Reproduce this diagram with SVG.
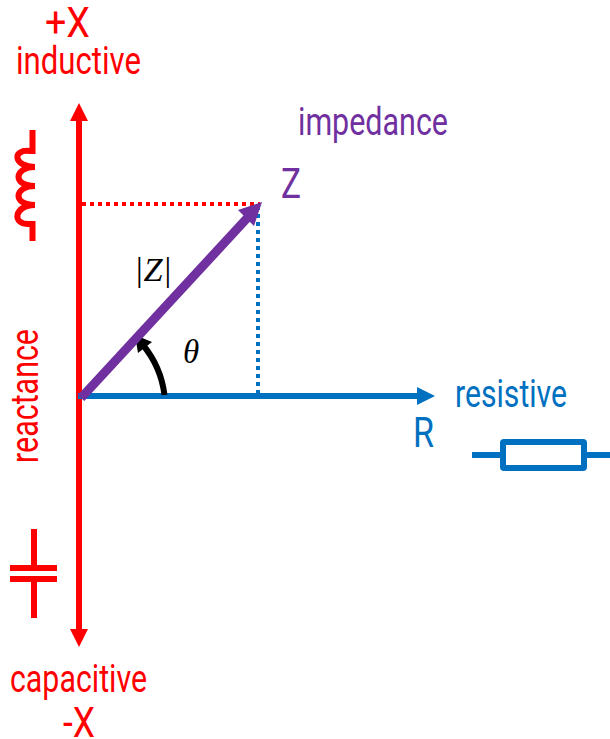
<svg xmlns="http://www.w3.org/2000/svg" width="610" height="739" viewBox="0 0 610 739">
<style>
text{font-family:Roboto,"Liberation Sans",sans-serif;font-size:38px}
.big{font-size:42px}
.r{fill:#ff0000}.b{fill:#0070c0}.p{fill:#7030a0}
.m{font-family:"Liberation Serif",serif;font-style:italic;font-size:33px;fill:#000}
.sr{stroke:#ff0000;fill:none;stroke-width:6}
.sb{stroke:#0070c0;fill:none;stroke-width:6}
</style>
<rect width="610" height="739" fill="#fff"/>
<g id="connectors">
<line x1="82" y1="204" x2="260" y2="204" stroke="#ff0000" stroke-width="4" stroke-dasharray="4 4"/>
<line x1="258" y1="206" x2="258" y2="393" stroke="#0070c0" stroke-width="4" stroke-dasharray="4 4"/>
<line x1="79" y1="118" x2="79" y2="632" stroke="#ff0000" stroke-width="6"/>
<polygon points="79,103 88,121 70,121" fill="#ff0000"/>
<polygon points="79,647 88,629 70,629" fill="#ff0000"/>
<line x1="78" y1="396" x2="420" y2="396" stroke="#0070c0" stroke-width="6"/>
<polygon points="435,396 417,387 417,405" fill="#0070c0"/>
<path d="M164.500 395 Q161 367 143 345" fill="none" stroke="#000" stroke-width="6"/>
<polygon points="135,335 152,342 138,353" fill="#000"/>
<line x1="81" y1="398" x2="250" y2="215" stroke="#7030a0" stroke-width="9"/>
<polygon points="262,202 254,226 238,210" fill="#7030a0"/>
</g>
<g id="inductor">
<path class="sr" d="M32.500 130V151H30C11 149 14 167 35 167C14 167 12 186 35 186C14 186 12 205 35 205C14 205 11 225 30 224H32.500V241"/>
</g>
<g id="capacitor">
<path class="sr" d="M34 529V565M10 568H57M10 579H57M34 582V618"/>
</g>
<g id="resistor">
<line class="sb" x1="472" y1="455" x2="502" y2="455"/>
<line class="sb" x1="585" y1="455" x2="610" y2="455"/>
<rect class="sb" x="503" y="442" width="81" height="26" rx="1"/>
</g>
<g id="labels">
<text class="r big" x="45" y="37" textLength="45" lengthAdjust="spacingAndGlyphs">+X</text>
<text class="r" x="16" y="74" textLength="125" lengthAdjust="spacingAndGlyphs">inductive</text>
<text class="p" x="298" y="135" textLength="150" lengthAdjust="spacingAndGlyphs">impedance</text>
<text class="p big" x="281" y="198" textLength="20" lengthAdjust="spacingAndGlyphs">Z</text>
<text class="m" x="134" y="281" textLength="38" lengthAdjust="spacingAndGlyphs">|Z|</text>
<text class="m" x="183" y="363">θ</text>
<text class="b" x="455" y="407" textLength="112" lengthAdjust="spacingAndGlyphs">resistive</text>
<text class="b big" x="413" y="447" textLength="21" lengthAdjust="spacingAndGlyphs">R</text>
<text class="r" transform="translate(38,463) rotate(-90)" textLength="134" lengthAdjust="spacingAndGlyphs">reactance</text>
<text class="r" x="10" y="692" textLength="137" lengthAdjust="spacingAndGlyphs">capacitive</text>
<text class="r big" x="63" y="737" textLength="32" lengthAdjust="spacingAndGlyphs">-X</text>
</g>
</svg>
